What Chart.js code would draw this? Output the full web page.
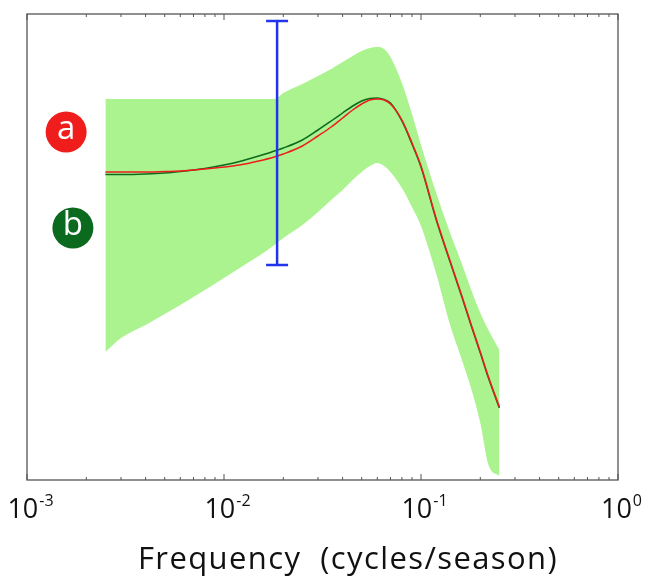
<!DOCTYPE html>
<html>
<head>
<meta charset="utf-8">
<script src="https://cdn.jsdelivr.net/npm/chart.js@4.4.0/dist/chart.umd.min.js"></script>
<style>
  body { margin: 0; background: #fff; }
  canvas { display: block; }
</style>
</head>
<body>
<canvas id="spec" width="648" height="579"></canvas>
<script>
// frequency (cycles/season)
const freq = [0.0025, 0.003, 0.004, 0.005, 0.006, 0.008, 0.01, 0.012, 0.015, 0.018,
  0.02, 0.025, 0.03, 0.035, 0.04, 0.045, 0.05, 0.055, 0.06, 0.065, 0.07,
  0.08, 0.09, 0.1, 0.12, 0.14, 0.16, 0.18, 0.2, 0.22, 0.25];

// spectrum, arbitrary units
const redLine = [308, 308, 308, 308.5, 309, 311, 313, 315, 319, 323,
  326, 334, 344, 353, 362, 370, 376, 380, 381, 380, 376,
  360, 337, 314, 260, 220, 186, 155, 128, 103, 73];
const greenLine = [305.5, 305.5, 306, 307, 308.5, 311.5, 315, 318.5, 324, 329,
  332, 340, 350, 359, 367, 374, 379, 381.5, 382, 380.5, 377,
  359, 336, 313, 259, 219, 185, 154, 127, 102, 72];
const bandUpper = [381, 381, 381, 381, 381, 381, 381, 381, 381, 381,
  387, 396, 404, 411, 418, 424, 429, 432, 433, 431, 423,
  397, 366, 335, 286, 248, 218, 190, 167, 150, 130];
const bandLower = [128, 142, 155, 166, 175, 190, 202, 212, 224, 235,
  242, 255, 268, 280, 290, 300, 308, 314, 317, 314, 308,
  292, 273, 254, 205, 156, 122, 91, 57, 15, 4];

// confidence bar
const errX = 0.0186;
const errLow = 215;
const errHigh = 459;

// circled labels
const markerText = ["a", "b"];
const markerX = [0.00158, 0.00171];
const markerY = [348, 252];
const markerColor = ["#f01d1d", "#0b6a1e"];

const tickValues = [0.001, 0.01, 0.1, 1];
const tickExponents = ["-3", "-2", "-1", "0"];
const xTitle = "Frequency  (cycles/season)";

const pts = (ys) => freq.map((f, i) => ({ x: f, y: ys[i] }));

const decor = {
  id: "decor",
  afterDraw(chart) {
    const ctx = chart.ctx;
    const a = chart.chartArea;
    const xs = chart.scales.x;
    const ys = chart.scales.y;
    ctx.save();

    // frame
    ctx.strokeStyle = "#555";
    ctx.lineWidth = 1.3;
    ctx.strokeRect(a.left, a.top, a.right - a.left, a.bottom - a.top);

    // inward ticks on top and bottom
    ctx.lineWidth = 1;
    for (let d = -3; d <= 0; d++) {
      for (let m = 1; m <= 9; m++) {
        if (d === 0 && m > 1) break;
        const v = m * Math.pow(10, d);
        const px = xs.getPixelForValue(v);
        const len = m === 1 ? 6 : 3;
        ctx.beginPath();
        ctx.moveTo(px, a.bottom);
        ctx.lineTo(px, a.bottom - len);
        ctx.moveTo(px, a.top);
        ctx.lineTo(px, a.top + len);
        ctx.stroke();
      }
    }

    // tick labels with superscript
    ctx.fillStyle = "#111";
    ctx.textBaseline = "alphabetic";
    ctx.textAlign = "left";
    tickValues.forEach((v, i) => {
      const px = xs.getPixelForValue(v);
      ctx.font = "27px 'Open Sans'";
      const wBase = ctx.measureText("10").width;
      ctx.font = "16px 'Open Sans'";
      const wExp = ctx.measureText(tickExponents[i]).width;
      const start = px - (wBase + wExp) / 2 + 3;
      ctx.font = "27px 'Open Sans'";
      ctx.fillText("10", start, 518);
      ctx.font = "16px 'Open Sans'";
      ctx.fillText(tickExponents[i], start + wBase + 1, 506);
    });

    // axis title
    ctx.font = "31px 'Open Sans'";
    ctx.letterSpacing = "1.4px";
    ctx.textAlign = "center";
    ctx.fillText(xTitle, 348, 569);
    ctx.letterSpacing = "0px";

    // circled labels
    markerText.forEach((t, i) => {
      const cx = xs.getPixelForValue(markerX[i]);
      const cy = ys.getPixelForValue(markerY[i]);
      ctx.fillStyle = markerColor[i];
      ctx.beginPath();
      ctx.arc(cx, cy, 20.5, 0, Math.PI * 2);
      ctx.fill();
      ctx.fillStyle = "#fff";
      ctx.font = "33px 'Open Sans'";
      ctx.textAlign = "center";
      ctx.textBaseline = "middle";
      ctx.fillText(t, cx, cy - 2);
    });

    ctx.restore();
  }
};

new Chart(document.getElementById("spec"), {
  type: "line",
  data: {
    datasets: [
      {
        data: pts(bandUpper),
        borderWidth: 0,
        pointRadius: 0,
        backgroundColor: "#aaf38e",
        fill: "+1",
        cubicInterpolationMode: "monotone",
        order: 5
      },
      {
        data: pts(bandLower),
        borderWidth: 0,
        pointRadius: 0,
        fill: false,
        cubicInterpolationMode: "monotone",
        order: 5
      },
      {
        data: pts(greenLine),
        borderColor: "#0b6a1e",
        borderWidth: 1.5,
        pointRadius: 0,
        fill: false,
        cubicInterpolationMode: "monotone",
        order: 3
      },
      {
        data: pts(redLine),
        borderColor: "#ee1c1c",
        borderWidth: 1.5,
        pointRadius: 0,
        fill: false,
        cubicInterpolationMode: "monotone",
        order: 2
      },
      {
        data: [{ x: errX, y: errLow }, { x: errX, y: errHigh }],
        borderColor: "#2233ee",
        borderWidth: 2.5,
        pointStyle: "line",
        pointRadius: 11,
        pointBorderWidth: 2.5,
        pointBorderColor: "#2233ee",
        fill: false,
        order: 1
      }
    ]
  },
  options: {
    responsive: false,
    devicePixelRatio: 1,
    animation: false,
    layout: { padding: { left: 27, right: 30, top: 14, bottom: 99 } },
    scales: {
      x: { type: "logarithmic", min: 0.001, max: 1, display: false },
      y: { type: "linear", min: 0, max: 466, display: false }
    },
    plugins: {
      legend: { display: false },
      tooltip: { enabled: false }
    }
  },
  plugins: [decor]
});
</script>
</body>
</html>
